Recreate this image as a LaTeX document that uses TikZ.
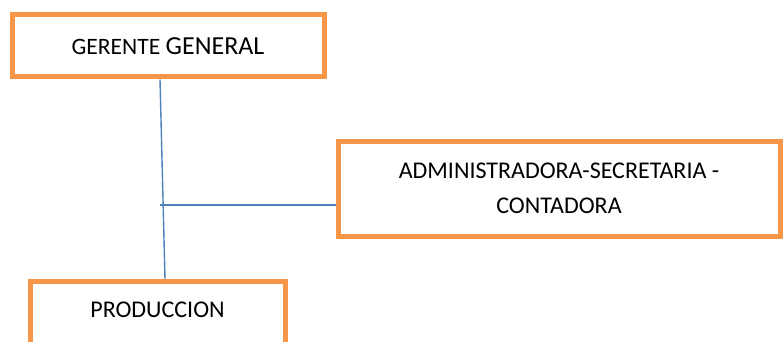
\documentclass[tikz,border=0pt]{standalone}
\usepackage{fontspec}
\setmainfont{Carlito}
\usetikzlibrary{positioning,calc}
\definecolor{naranja}{HTML}{F79646}
\definecolor{azul}{HTML}{4F81BD}
\begin{document}
\begin{tikzpicture}[x=1pt,y=-1pt,
		cargo/.style={draw=naranja,line width=5pt,fill=white,inner sep=0pt,align=center,font=\fontsize{24}{34.5}\selectfont},
		enlace/.style={draw=azul,line width=1.4pt}]
		\useasboundingbox (0,0) rectangle (783,342);
		\clip (0,0) rectangle (783,342);
		\node[cargo,minimum width=312pt,minimum height=62pt] (gerente) at (168,46) {{\fontsize{23.5}{25}\selectfont GERENTE} {\fontsize{26}{28}\selectfont GENERAL}};
		\node[cargo,minimum width=442pt,minimum height=95pt] (admin) at (559,188.5) {ADMINISTRADORA-SECRETARIA -\\CONTADORA};
		\node[cargo,minimum width=255pt,anchor=north,inner ysep=20pt,text depth=60pt] (produccion) at (157.5,279) {PRODUCCION};
		\coordinate (arriba) at ([xshift=-8pt]gerente.south);
		\coordinate (abajo) at ([xshift=7.5pt]produccion.north);
		\draw[enlace] (arriba) -- coordinate[pos=0.63] (cruce) (abajo);
		\draw[enlace] ([xshift=-3pt]cruce) -- (cruce -| admin.west);
	\end{tikzpicture}
\end{document}
